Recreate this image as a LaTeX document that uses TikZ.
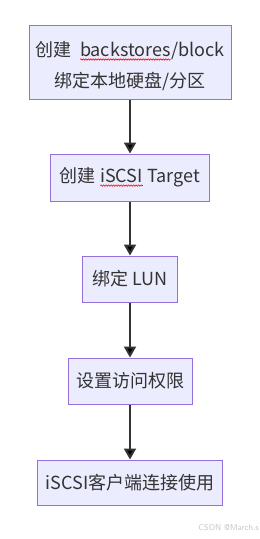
\documentclass[tikz,border=0pt]{standalone}
\usepackage{fontspec}
\setmainfont{Noto Sans CJK SC}
\usetikzlibrary{arrows.meta,decorations.pathmorphing}
\definecolor{boxfill}{HTML}{ECECFF}
\definecolor{boxline}{HTML}{9370DB}
\definecolor{ink}{HTML}{333333}
\newcommand\wavy[1]{\tikz[baseline=(w.base)]{\node[draw=none,fill=none,minimum width=0pt,minimum height=0pt,inner sep=0pt,outer sep=0pt,font=\fontsize{18}{21}\selectfont,text=ink](w){#1};\draw[red,line width=0.6pt,decorate,decoration={snake,amplitude=0.7pt,segment length=2.5pt}] ([yshift=-2.5pt]w.south west)--([yshift=-2.5pt]w.south east);}}
\tikzset{
  flowbox/.style={draw=boxline,fill=boxfill,line width=1pt,text=ink,font=\fontsize{18}{21}\selectfont,inner sep=0pt,align=center},
  flowtext/.style={text=ink,font=\fontsize{18}{21}\selectfont,inner sep=0pt},
  flowarrow/.style={draw=ink,line width=2pt,-{Triangle[length=11pt,width=12pt]}}
}
\begin{document}
\begin{tikzpicture}[x=1pt,y=1pt]
\useasboundingbox[fill=white] (0,0) rectangle (260,-539);
\node[flowbox,minimum width=202pt,minimum height=74pt] (b1) at (130,-62) {};
\node[flowtext] (t1a) at (130,-51) {创建\ \ \wavy{backstores}/block};
\node[flowtext] (t1b) at (130,-81) {绑定本地硬盘/分区};
\node[flowbox,minimum width=159pt,minimum height=47pt] (b2) at (130,-177.5) {创建\ \wavy{iSCSI} Target};
\node[flowbox,minimum width=95pt,minimum height=46pt] (b3) at (130,-279) {绑定\ LUN};
\node[flowbox,minimum width=124pt,minimum height=46pt] (b4) at (130,-381) {设置访问权限};
\node[flowbox,minimum width=185pt,minimum height=45pt] (b5) at (130,-482.5) {iSCSI客户端连接使用};
\draw[flowarrow] (b1.south) -- (b2.north);
\draw[flowarrow] (b2.south) -- (b3.north);
\draw[flowarrow] (b3.south) -- (b4.north);
\draw[flowarrow] (b4.south) -- (b5.north);
\node[anchor=east,text=black!22,font=\fontsize{8.5}{10}\selectfont\sffamily,inner sep=0pt] (wm) at (259,-528) {CSDN @March.s};
\end{tikzpicture}
\end{document}
